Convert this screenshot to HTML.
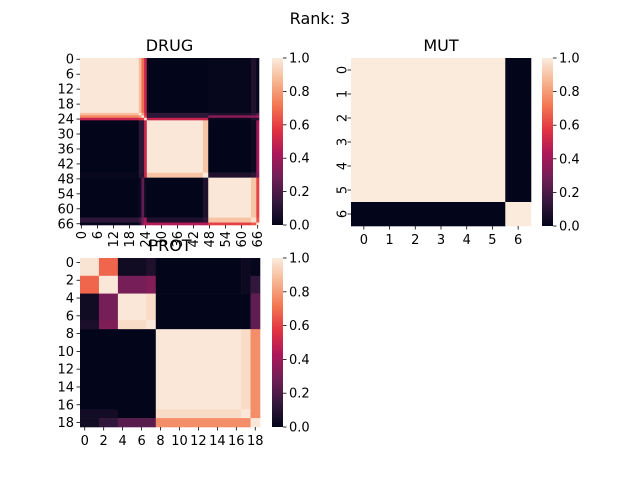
<!DOCTYPE html>
<html><head><meta charset="utf-8"><style>
body{margin:0;background:#fff}
svg{display:block;font-family:"DejaVu Sans","Liberation Sans",sans-serif}
</style></head><body>
<svg id="fig" width="640" height="480" viewBox="0 0 640 480">
<text x="320" y="24" font-size="16" text-anchor="middle">Rank: 3</text>
<defs>
<linearGradient id="rocket" x1="0" y1="1" x2="0" y2="0">
<stop offset="0" stop-color="#03051a"/><stop offset="0.143" stop-color="#35193e"/><stop offset="0.286" stop-color="#701f57"/><stop offset="0.429" stop-color="#ad1759"/><stop offset="0.571" stop-color="#e13342"/><stop offset="0.714" stop-color="#f37651"/><stop offset="0.857" stop-color="#f6b48f"/><stop offset="1" stop-color="#faebdd"/>
</linearGradient>
</defs>
</svg>
<script>
// DRUG: segment sizes and block values
const drugSegSizes=[22,1,1,1,21,2,16,2,1];
const drugBlockVals=[
[0.99,0.88,0.7,0.5,0.0,0.0,0.01,0.08,0.01],
[0.88,1.0,0.8,0.55,0.12,0.12,0.08,0.12,0.2],
[0.75,0.8,1.0,0.6,0.12,0.12,0.35,0.35,0.4],
[0.5,0.55,0.6,1.0,0.5,0.5,0.02,0.08,0.1],
[0.0,0.12,0.12,0.5,0.99,0.9,0.0,0.03,0.4],
[0.01,0.12,0.1,0.5,0.9,1.0,0.08,0.12,0.35],
[0.0,0.03,0.25,0.03,0.0,0.08,0.99,0.9,0.6],
[0.12,0.18,0.3,0.4,0.08,0.12,0.9,0.97,0.65],
[0.01,0.08,0.35,0.45,0.45,0.45,0.6,0.65,1.0]];
const drugTicks=[0,6,12,18,24,30,36,42,48,54,60,66];
// PROT
const protSegSizes=[2,2,3,1,9,1,1];
const protBlockVals=[
[0.98,0.68,0.04,0.08,0.0,0.03,0.01],
[0.68,0.99,0.3,0.33,0.0,0.03,0.13],
[0.04,0.3,0.99,0.96,0.0,0.0,0.25],
[0.07,0.32,0.96,0.99,0.0,0.0,0.25],
[0.0,0.0,0.0,0.0,0.99,0.96,0.77],
[0.05,0.05,0.0,0.0,0.96,0.99,0.77],
[0.04,0.13,0.23,0.23,0.77,0.77,0.99]];
const protTicks=[0,2,4,6,8,10,12,14,16,18];
// MUT
const mutSegSizes=[6,1];
const mutBlockVals=[[1.0,0.0],[0.0,1.0]];
const mutTicks=[0,1,2,3,4,5,6];
const cbarTicks=[0,0.2,0.4,0.6,0.8,1.0];

const stops=[[0,[3,5,26]],[0.143,[53,25,62]],[0.286,[112,31,87]],[0.429,[173,23,89]],[0.571,[225,51,66]],[0.714,[243,118,81]],[0.857,[246,180,143]],[1,[250,235,221]]];
function rocket(v){v=Math.max(0,Math.min(1,v));for(let i=1;i<stops.length;i++){if(v<=stops[i][0]){const a=stops[i-1],b=stops[i];const t=(v-a[0])/(b[0]-a[0]);const c=a[1].map((x,k)=>Math.round(x+(b[1][k]-x)*t));return `rgb(${c})`;}}return 'rgb(250,235,221)';}
const NS='http://www.w3.org/2000/svg';
const svg=document.getElementById('fig');
function mk(tag,attrs,parent){const e=document.createElementNS(NS,tag);for(const k in attrs)e.setAttribute(k,attrs[k]);(parent||svg).appendChild(e);return e;}
const FS=13;
function heatmap(name,sizes,vals,ticks,box,opts){
  const g=mk('g',{});
  
  
  const n=sizes.reduce((a,b)=>a+b,0);
  const cw=box.w/n,ch=box.h/n;
  const xs=v=>box.x+v*cw, ys=v=>box.y+v*ch;
  let r0=0;
  sizes.forEach((rs,i)=>{let c0=0;sizes.forEach((cs,j)=>{
    const rc=mk('rect',{x:xs(c0),y:ys(r0),width:cs*cw+0.3,height:rs*ch+0.3,fill:rocket(vals[i][j])},g);
    
    
    c0+=cs;});r0+=rs;});
  const tt=mk('text',{x:box.x+box.w/2,y:box.y-7,'font-size':16,'text-anchor':'middle'},g);
  tt.textContent=name;
  
  
  ticks.forEach(t=>{
    const y=ys(t+0.5),x=xs(t+0.5);
    mk('line',{x1:box.x-3.5,x2:box.x,y1:y,y2:y,stroke:'#000','stroke-width':0.8},g);
    mk('line',{x1:x,x2:x,y1:box.y+box.h,y2:box.y+box.h+3.5,stroke:'#000','stroke-width':0.8},g);
    let yl;
    if(opts.rotY){yl=mk('text',{x:box.x-8,y:y,'font-size':FS,'text-anchor':'middle',transform:`rotate(-90 ${box.x-8} ${y})`,'dominant-baseline':'central'},g);}
    else{yl=mk('text',{x:box.x-6,y:y+4.5,'font-size':FS,'text-anchor':'end'},g);}
    yl.textContent=t;
    
    
    let xl;
    if(opts.rotX){const ty=box.y+box.h+6;xl=mk('text',{x:x+4.5,y:ty,'font-size':FS,'text-anchor':'end',transform:`rotate(-90 ${x+4.5} ${ty})`},g);}
    else{xl=mk('text',{x:x,y:box.y+box.h+18,'font-size':FS,'text-anchor':'middle'},g);}
    xl.textContent=t;
    
    
  });
  const cb=mk('g',{});
  
  
  mk('rect',{x:opts.cbx,y:box.y,width:opts.cbw,height:box.h,fill:'url(#rocket)'},cb);
  cbarTicks.forEach(t=>{const y=box.y+box.h-t*box.h;
    mk('line',{x1:opts.cbx+opts.cbw,x2:opts.cbx+opts.cbw+3.5,y1:y,y2:y,stroke:'#000','stroke-width':0.8},cb);
    const l=mk('text',{x:opts.cbx+opts.cbw+6,y:y+4.5,'font-size':FS},cb);l.textContent=t.toFixed(1);
    
    });
}
heatmap('DRUG',drugSegSizes,drugBlockVals,drugTicks,{x:80,y:58,w:179,h:167},{rotX:true,cbx:272,cbw:11});
heatmap('PROT',protSegSizes,protBlockVals,protTicks,{x:80,y:258,w:180,h:169},{cbx:272,cbw:11});
heatmap('MUT',mutSegSizes,mutBlockVals,mutTicks,{x:351,y:58,w:180,h:168},{rotY:true,cbx:542,cbw:11});
</script>
</body></html>
